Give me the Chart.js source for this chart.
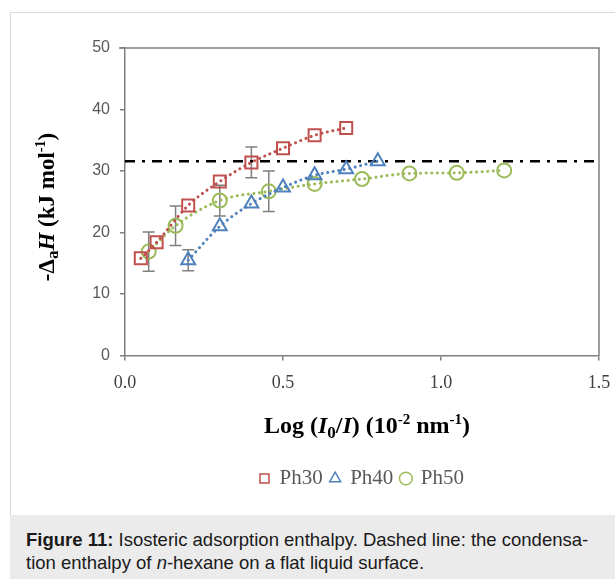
<!DOCTYPE html>
<html>
<head>
<meta charset="utf-8">
<script src="https://cdn.jsdelivr.net/npm/chart.js@4.4.0/dist/chart.umd.min.js"></script>
<style>
  html, body { margin: 0; padding: 0; background: #fff; }
  #frame { position: absolute; left: 10px; top: 12px; width: 605px; height: 567px;
    border-left: 1px solid #d9d9d9; border-top: 1px solid #d9d9d9; }
  #wrap { position: absolute; left: 0; top: 0; width: 615px; height: 515px; }
  #caption { position: absolute; left: 10px; top: 515px; width: 605px; height: 64px;
    background: #ebebeb; box-sizing: border-box; padding: 13px 0 0 16px;
    font: 18.5px "Liberation Sans", Arial, sans-serif; line-height: 23px; color: #1a1a1a;
    white-space: nowrap; }
</style>
</head>
<body>
<div id="frame"></div>
<div id="wrap"><canvas id="chart" width="615" height="515"></canvas></div>
<div id="caption"><b>Figure 11:</b> Isosteric adsorption enthalpy. Dashed line: the condensa-<br>tion enthalpy of <i>n</i>-hexane on a flat liquid surface.</div>
<script>
// values
const ph30X = [0.05, 0.1, 0.2, 0.3, 0.4, 0.5, 0.6, 0.7]
const ph30Y = [15.8, 18.4, 24.4, 28.3, 31.4, 33.7, 35.8, 37.0]
const ph30Err = [null, null, null, null, 2.5, null, null, null]

const ph40X = [0.2, 0.3, 0.4, 0.5, 0.6, 0.7, 0.8]
const ph40Y = [15.5, 21.0, 24.7, 27.3, 29.3, 30.3, 31.6]
const ph40Err = [1.7, null, null, null, null, null, null]

const ph50X = [0.075, 0.16, 0.3, 0.455, 0.6, 0.75, 0.9, 1.05, 1.2]
const ph50Y = [16.9, 21.1, 25.2, 26.7, 27.9, 28.7, 29.6, 29.7, 30.1]
const ph50Err = [3.2, 3.2, 2.5, 3.3, null, null, null, null, null]

const condensation = 31.6
const xTicks = [0, 0.5, 1.0, 1.5]
const yTicks = [0, 10, 20, 30, 40, 50]

const red = '#c0504d'
const blue = '#4f81bd'
const green = '#9bbb59'
const serif = '"Liberation Serif", "Times New Roman", serif'

function pts(xs, ys) {
  return xs.map((x, i) => ({ x: x, y: ys[i] }))
}

function series(label, xs, ys, color, style, radius) {
  return {
    label: label,
    data: pts(xs, ys),
    showLine: true,
    borderColor: color,
    backgroundColor: 'rgba(0,0,0,0)',
    borderWidth: 3,
    borderDash: [0.1, 5.5],
    borderCapStyle: 'round',
    tension: 0.4,
    cubicInterpolationMode: 'monotone',
    pointStyle: style,
    pointRadius: radius,
    pointHoverRadius: radius,
    pointBorderWidth: 2,
    pointBorderColor: color,
    pointBackgroundColor: 'rgba(0,0,0,0)'
  }
}

// gray error bars, drawn under the markers
const errorBars = {
  id: 'errorBars',
  beforeDatasetsDraw(chart) {
    const ctx = chart.ctx
    const xs = chart.scales.x, ys = chart.scales.y
    const sets = [[ph30X, ph30Y, ph30Err], [ph40X, ph40Y, ph40Err], [ph50X, ph50Y, ph50Err]]
    ctx.save()
    ctx.strokeStyle = '#7f7f7f'
    ctx.lineWidth = 1.5
    sets.forEach(s => {
      s[2].forEach((e, i) => {
        if (e == null) return
        const px = xs.getPixelForValue(s[0][i])
        const top = ys.getPixelForValue(s[1][i] + e)
        const bot = ys.getPixelForValue(s[1][i] - e)
        ctx.beginPath()
        ctx.moveTo(px, top); ctx.lineTo(px, bot)
        ctx.moveTo(px - 6, top); ctx.lineTo(px + 6, top)
        ctx.moveTo(px - 6, bot); ctx.lineTo(px + 6, bot)
        ctx.stroke()
      })
    })
    ctx.restore()
  }
}

// top and right sides of the plot box
const frameBox = {
  id: 'frameBox',
  beforeDatasetsDraw(chart) {
    const a = chart.chartArea, ctx = chart.ctx
    ctx.save()
    ctx.strokeStyle = '#7f7f7f'
    ctx.lineWidth = 1.5
    ctx.beginPath()
    ctx.moveTo(a.left - 6, a.top)
    ctx.lineTo(a.right, a.top)
    ctx.lineTo(a.right, a.bottom)
    ctx.stroke()
    ctx.restore()
  }
}

function fontFor(kind, size) {
  if (kind === 'i') return 'italic bold ' + size + 'px ' + serif
  if (kind === 'sub') return 'bold ' + Math.round(size * 0.72) + 'px ' + serif
  if (kind === 'sup') return 'bold ' + Math.round(size * 0.62) + 'px ' + serif
  return 'bold ' + size + 'px ' + serif
}

function richText(ctx, parts, size) {
  ctx.textAlign = 'left'
  ctx.textBaseline = 'alphabetic'
  let w = 0
  parts.forEach(p => { ctx.font = fontFor(p[1], size); w += ctx.measureText(p[0]).width })
  let x = -w / 2
  parts.forEach(p => {
    ctx.font = fontFor(p[1], size)
    let dy = 0
    if (p[1] === 'sub') dy = size * 0.2
    if (p[1] === 'sup') dy = -size * 0.38
    ctx.fillText(p[0], x, dy + size * 0.33)
    x += ctx.measureText(p[0]).width
  })
}

const xTitle = [['Log (', 'b'], ['I', 'i'], ['0', 'sub'], ['/', 'b'], ['I', 'i'], [') (10', 'b'],
  ['-2', 'sup'], [' nm', 'b'], ['-1', 'sup'], [')', 'b']]
const yTitle = [['-\u0394', 'b'], ['a', 'sub'], ['H', 'i'], [' (kJ mol', 'b'], ['-1', 'sup'], [')', 'b']]

const axisTitles = {
  id: 'axisTitles',
  afterDraw(chart) {
    const a = chart.chartArea, ctx = chart.ctx
    ctx.save()
    ctx.fillStyle = '#000'
    ctx.translate((a.left + a.right) / 2 + 5, 425)
    richText(ctx, xTitle, 24)
    ctx.restore()
    ctx.save()
    ctx.fillStyle = '#000'
    ctx.translate(46, 207)
    ctx.rotate(-Math.PI / 2)
    richText(ctx, yTitle, 23)
    ctx.restore()
  }
}

new Chart(document.getElementById('chart'), {
  type: 'scatter',
  data: {
    datasets: [
      series('Ph30', ph30X, ph30Y, red, 'rect', 8.5),
      series('Ph40', ph40X, ph40Y, blue, 'triangle', 8),
      series('Ph50', ph50X, ph50Y, green, 'circle', 7),
      {
        label: 'condensation',
        data: [{ x: xTicks[0], y: condensation }, { x: xTicks[xTicks.length - 1], y: condensation }],
        showLine: true,
        borderColor: '#000',
        borderWidth: 2.5,
        borderDash: [10, 7, 3, 7],
        pointRadius: 0,
        pointHoverRadius: 0
      }
    ]
  },
  options: {
    responsive: false,
    animation: false,
    layout: { padding: { left: 0, top: 48, right: 16, bottom: 16 } },
    plugins: {
      tooltip: { enabled: false },
      legend: {
        position: 'bottom',
        fullSize: false,
        labels: {
          usePointStyle: true,
          boxWidth: 9,
          boxHeight: 9,
          padding: 8,
          color: '#595959',
          font: { family: serif, size: 21 },
          filter: item => item.text !== 'condensation',
          generateLabels(chart) {
            const items = Chart.defaults.plugins.legend.labels.generateLabels(chart)
            items.forEach(it => { it.lineDash = []; it.lineWidth = 1.5; it.fillStyle = 'rgba(0,0,0,0)' })
            return items
          }
        }
      }
    },
    scales: {
      x: {
        type: 'linear',
        min: xTicks[0],
        max: xTicks[xTicks.length - 1],
        afterBuildTicks: s => { s.ticks = xTicks.map(v => ({ value: v })) },
        afterFit: s => { s.height = 104.5; s.paddingLeft = 0; s.paddingRight = 0 },
        grid: { drawOnChartArea: false, drawTicks: true, tickLength: 5, color: '#7f7f7f', lineWidth: 1.5 },
        border: { color: '#7f7f7f', width: 1.5 },
        ticks: {
          padding: 12,
          color: '#404040',
          font: { family: serif, size: 18 },
          callback: v => v.toFixed(1)
        }
      },
      y: {
        min: yTicks[0],
        max: yTicks[yTicks.length - 1],
        afterBuildTicks: s => { s.ticks = yTicks.map(v => ({ value: v })) },
        afterFit: s => { s.width = 125; s.paddingTop = 0; s.paddingBottom = 0 },
        grid: { drawOnChartArea: false, drawTicks: true, tickLength: 5, color: '#7f7f7f', lineWidth: 1.5 },
        border: { color: '#7f7f7f', width: 1.5 },
        ticks: {
          padding: 10,
          color: '#595959',
          font: { family: '"Liberation Sans", Arial, sans-serif', size: 16 }
        }
      }
    }
  },
  plugins: [errorBars, frameBox, axisTitles]
})
</script>
</body>
</html>
